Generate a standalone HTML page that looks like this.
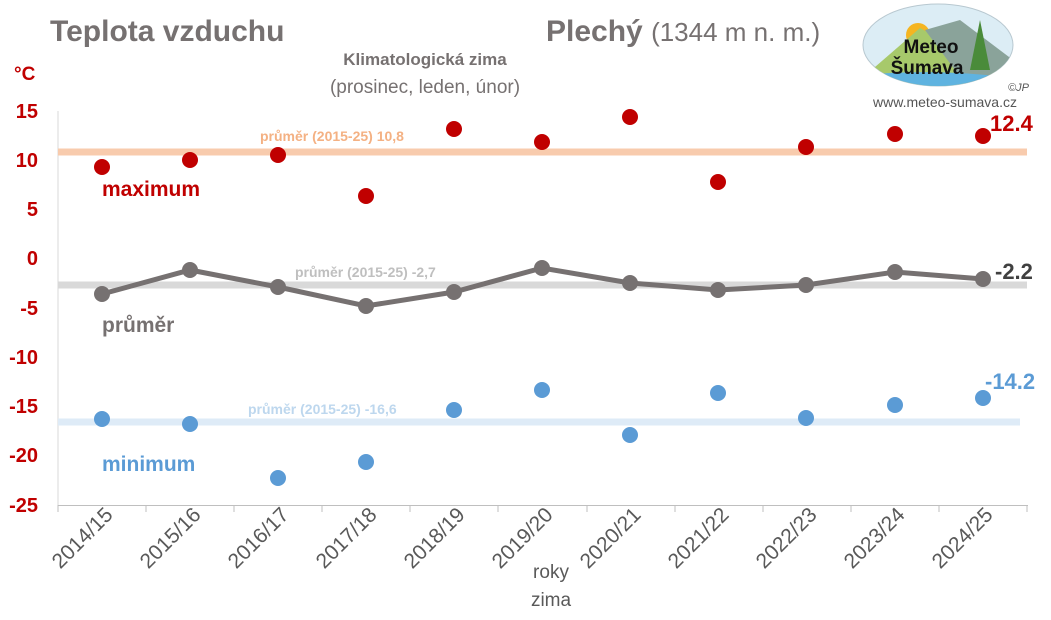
<!DOCTYPE html>
<html><head><meta charset="utf-8"><style>
body{margin:0;background:#fff;}
svg text{font-family:"Liberation Sans",sans-serif;}
</style></head><body>
<svg width="1051" height="615" viewBox="0 0 1051 615" xmlns="http://www.w3.org/2000/svg">
<rect width="1051" height="615" fill="#fff"/>
<text x="50" y="41" font-size="30" font-weight="bold" fill="#767171">Teplota vzduchu</text>
<text x="546" y="41" font-size="30" font-weight="bold" fill="#767171">Plechý <tspan font-weight="normal" font-size="26">(1344 m n. m.)</tspan></text>
<text x="425" y="65" font-size="17" font-weight="bold" fill="#767171" text-anchor="middle">Klimatologická zima</text>
<text x="425" y="93" font-size="19" fill="#767171" text-anchor="middle">(prosinec, leden, únor)</text>
<defs><clipPath id="lc"><ellipse cx="938" cy="45" rx="75" ry="41"/></clipPath></defs>
<ellipse cx="938" cy="45" rx="75" ry="41" fill="#dcedf5" stroke="#b8c8d0"/>
<g clip-path="url(#lc)">
<circle cx="918" cy="35" r="12" fill="#f5b521"/>
<path d="M860 80 L920 28 L960 50 L1013 75 L1013 90 L860 90Z" fill="#a7c96b"/>
<path d="M925 30 L960 20 L1013 60 L1013 90 L970 90Z" fill="#8aa39a"/>
<path d="M860 75 Q940 68 1013 78 L1013 90 L860 90Z" fill="#5fb3e0"/>
<path d="M980 20 L970 70 L990 70Z" fill="#4a8b3a"/>
</g>
<text x="931" y="53" font-size="19" font-weight="bold" fill="#111" text-anchor="middle">Meteo</text>
<text x="927" y="74" font-size="19" font-weight="bold" fill="#111" text-anchor="middle">Šumava</text>
<text x="1008" y="91" font-size="11" font-style="italic" fill="#555">©JP</text>
<text x="945" y="107" font-size="14" fill="#555" text-anchor="middle">www.meteo-sumava.cz</text>
<text x="14" y="80" font-size="19" font-weight="bold" fill="#c00000">°C</text>
<g font-size="20" font-weight="bold" fill="#c00000" text-anchor="end">
<text x="38" y="118">15</text><text x="38" y="167">10</text><text x="38" y="216">5</text><text x="38" y="265">0</text>
<text x="38" y="315">-5</text><text x="38" y="364">-10</text><text x="38" y="413">-15</text><text x="38" y="462">-20</text><text x="38" y="512">-25</text>
</g>
<line x1="58" y1="111" x2="58" y2="506" stroke="#d9d9d9"/>
<line x1="58" y1="505.5" x2="1028" y2="505.5" stroke="#bfbfbf"/>
<g stroke="#bfbfbf">
<line x1="58" y1="505" x2="58" y2="512"/><line x1="146" y1="505" x2="146" y2="512"/><line x1="234" y1="505" x2="234" y2="512"/><line x1="322" y1="505" x2="322" y2="512"/><line x1="410" y1="505" x2="410" y2="512"/><line x1="498" y1="505" x2="498" y2="512"/><line x1="587" y1="505" x2="587" y2="512"/><line x1="675" y1="505" x2="675" y2="512"/><line x1="763" y1="505" x2="763" y2="512"/><line x1="851" y1="505" x2="851" y2="512"/><line x1="939" y1="505" x2="939" y2="512"/><line x1="1027" y1="505" x2="1027" y2="512"/>
</g>
<g font-size="21" fill="#595959" text-anchor="end">
<text transform="translate(114,516) rotate(-45)">2014/15</text>
<text transform="translate(202,516) rotate(-45)">2015/16</text>
<text transform="translate(290,516) rotate(-45)">2016/17</text>
<text transform="translate(378,516) rotate(-45)">2017/18</text>
<text transform="translate(466,516) rotate(-45)">2018/19</text>
<text transform="translate(554,516) rotate(-45)">2019/20</text>
<text transform="translate(642,516) rotate(-45)">2020/21</text>
<text transform="translate(730,516) rotate(-45)">2021/22</text>
<text transform="translate(818,516) rotate(-45)">2022/23</text>
<text transform="translate(906,516) rotate(-45)">2023/24</text>
<text transform="translate(994,516) rotate(-45)">2024/25</text>
</g>
<text x="551" y="578" font-size="19" fill="#595959" text-anchor="middle">roky</text>
<text x="551" y="606" font-size="19" fill="#595959" text-anchor="middle">zima</text>
<line x1="58" y1="152" x2="1027" y2="152" stroke="#f8cbad" stroke-width="7"/>
<line x1="58" y1="285" x2="1027" y2="285" stroke="#d9d9d9" stroke-width="7"/>
<line x1="58" y1="422" x2="1020" y2="422" stroke="#deebf7" stroke-width="7"/>
<text x="260" y="141" font-size="14" font-weight="bold" fill="#f4b183">průměr (2015-25) 10,8</text>
<text x="295" y="277" font-size="14" font-weight="bold" fill="#bfbfbf">průměr (2015-25) -2,7</text>
<text x="248" y="414" font-size="14" font-weight="bold" fill="#bdd7ee">průměr (2015-25) -16,6</text>
<text x="102" y="196" font-size="21" font-weight="bold" fill="#c00000">maximum</text>
<text x="102" y="332" font-size="21" font-weight="bold" fill="#767171">průměr</text>
<text x="102" y="471" font-size="21" font-weight="bold" fill="#5b9bd5">minimum</text>
<polyline fill="none" stroke="#767171" stroke-width="5" points="102,294 190,270 278,287 366,306 454,292 542,268 630,283 718,290 806,285 895,272 983,279"/>
<g fill="#767171">
<circle cx="102" cy="294" r="8"/><circle cx="190" cy="270" r="8"/><circle cx="278" cy="287" r="8"/><circle cx="366" cy="306" r="8"/><circle cx="454" cy="292" r="8"/><circle cx="542" cy="268" r="8"/><circle cx="630" cy="283" r="8"/><circle cx="718" cy="290" r="8"/><circle cx="806" cy="285" r="8"/><circle cx="895" cy="272" r="8"/><circle cx="983" cy="279" r="8"/>
</g>
<g fill="#c00000">
<circle cx="102" cy="167" r="8"/><circle cx="190" cy="160" r="8"/><circle cx="278" cy="155" r="8"/><circle cx="366" cy="196" r="8"/><circle cx="454" cy="129" r="8"/><circle cx="542" cy="142" r="8"/><circle cx="630" cy="117" r="8"/><circle cx="718" cy="182" r="8"/><circle cx="806" cy="147" r="8"/><circle cx="895" cy="134" r="8"/><circle cx="983" cy="136" r="8"/>
</g>
<g fill="#5b9bd5">
<circle cx="102" cy="419" r="8"/><circle cx="190" cy="424" r="8"/><circle cx="278" cy="478" r="8"/><circle cx="366" cy="462" r="8"/><circle cx="454" cy="410" r="8"/><circle cx="542" cy="390" r="8"/><circle cx="630" cy="435" r="8"/><circle cx="718" cy="393" r="8"/><circle cx="806" cy="418" r="8"/><circle cx="895" cy="405" r="8"/><circle cx="983" cy="398" r="8"/>
</g>
<text x="990" y="131" font-size="22" font-weight="bold" fill="#c00000">12.4</text>
<text x="995" y="279" font-size="22" font-weight="bold" fill="#404040">-2.2</text>
<text x="985" y="389" font-size="22" font-weight="bold" fill="#5b9bd5">-14.2</text>
</svg>
</body></html>
